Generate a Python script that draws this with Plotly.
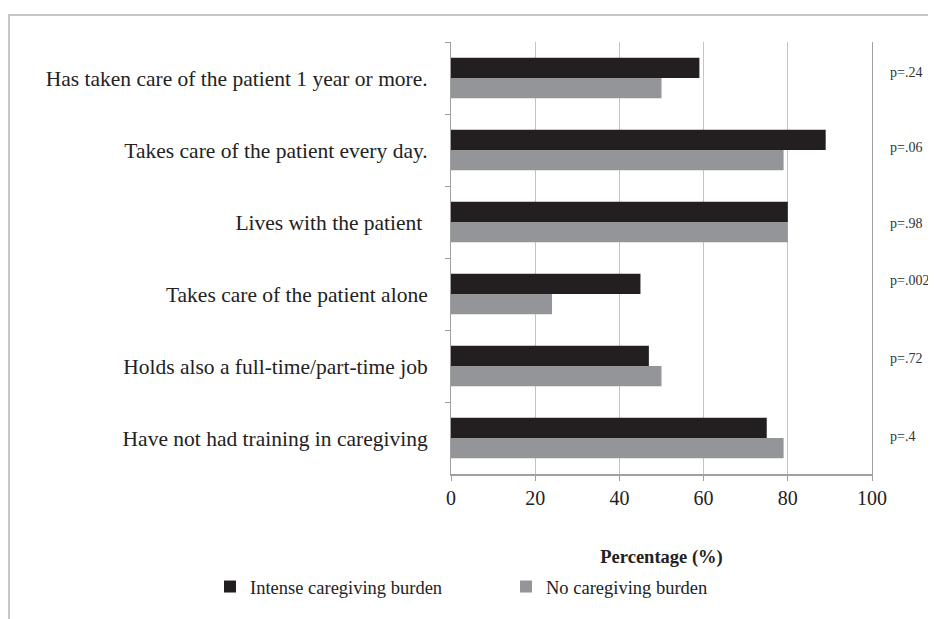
import plotly.graph_objects as go

categories = [
    "Has taken care of the patient 1 year or more.",
    "Takes care of the patient every day.",
    "Lives with the patient ",
    "Takes care of the patient alone",
    "Holds also a full-time/part-time job",
    "Have not had training in caregiving",
]
intense_burden = [59, 89, 80, 45, 47, 75]
no_burden = [50, 79, 80, 24, 50, 79]
p_values = ["p=.24", "p=.06", "p=.98", "p=.002", "p=.72", "p=.4"]
x_ticks = [0, 20, 40, 60, 80, 100]

# label placement (pixels above category centre)
p_yshift = [6, 3, -1, 14, 8, 2]

FONT = "Liberation Serif"

W, H = 936, 619
OFF = 8  # page body margin
# plot-area edges in screenshot pixels
PL, PR, PT, PB = 451, 872, 42, 474
L, T = PL - OFF, PT - OFF
R = W - (PR - OFF)
B = H - (PB - OFF)
pw, ph = PR - PL, PB - PT


def sx(px):
    return (px - PL) / pw


def sy(py):
    return (PB - py) / ph


fig = go.Figure()
fig.add_trace(go.Bar(
    y=categories, x=intense_burden, orientation="h",
    name="Intense caregiving burden",
    marker=dict(color="#231f20", line=dict(width=0)),
))
fig.add_trace(go.Bar(
    y=categories, x=no_burden, orientation="h",
    name="No caregiving burden",
    marker=dict(color="#939598", line=dict(width=0)),
))

for cat, p, dy in zip(categories, p_values, p_yshift):
    fig.add_annotation(
        x=sx(888), xref="paper", y=cat, yref="y", yshift=dy,
        text=p, showarrow=False, xanchor="left", yanchor="middle",
        font=dict(family=FONT, size=14, color="#333333"),
    )

# outer chart border (top and left visible)
fig.add_shape(
    type="rect", xref="paper", yref="paper",
    x0=sx(OFF + 1), x1=sx(960),
    y0=sy(650), y1=sy(15),
    line=dict(color="#c8c8c8", width=2), fillcolor="rgba(0,0,0,0)",
    layer="below",
)

fig.update_layout(
    width=W, height=H,
    margin=dict(l=L, r=R, t=T, b=B, pad=0),
    paper_bgcolor="white", plot_bgcolor="white",
    barmode="group", bargap=0.44, bargroupgap=0,
    font=dict(family=FONT, color="#222222"),
    showlegend=True,
    legend=dict(
        orientation="h", x=sx(210), y=sy(587),
        xanchor="left", yanchor="middle",
        font=dict(family=FONT, size=18.5, color="#222222"),
        entrywidth=251, entrywidthmode="pixels",
        itemwidth=30, traceorder="normal",
    ),
    xaxis=dict(
        range=[0, 100], tickvals=x_ticks,
        showgrid=True, gridcolor="#c4c4c4", gridwidth=1,
        showline=True, linecolor="#a0a0a0", linewidth=2,
        ticks="outside", ticklen=5, tickcolor="#a0a0a0", tickwidth=1,
        tickfont=dict(family=FONT, size=20, color="#222222"),
        zeroline=False,
        title=dict(text="<b>Percentage (%)</b>", standoff=42,
                   font=dict(family=FONT, size=18.5, color="#222222")),
    ),
    yaxis=dict(
        autorange="reversed",
        showline=True, linecolor="#a0a0a0", linewidth=1, mirror=True,
        ticks="outside", tickson="boundaries", ticklen=5,
        tickcolor="#a0a0a0", tickwidth=1,
        tickfont=dict(family=FONT, size=21.5, color="#222222"),
        showgrid=False,
        ticklabelstandoff=18,
    ),
)

fig.write_html("out.html")
